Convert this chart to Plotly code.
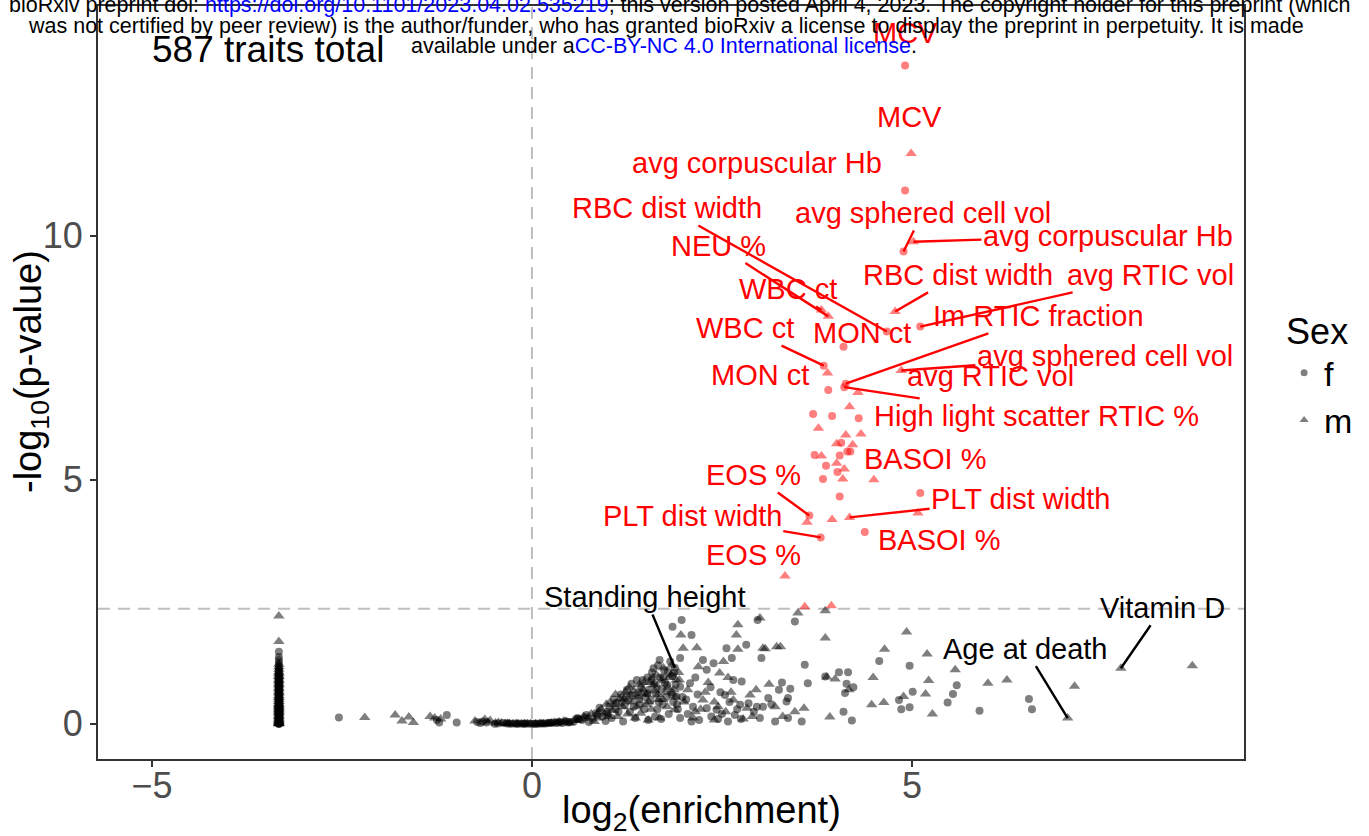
import plotly.graph_objects as go

# ---------------- data ----------------
THRESH = 2.36  # -log10 p significance threshold (dashed line)

# significant (red) traits
sig_f_x = [4.91, 4.91, 4.89, 5.11, 4.67, 4.10, 3.84, 3.90, 4.11, 4.13, 3.70, 3.95, 4.30,
           4.07, 4.19, 4.15, 3.72, 4.05, 3.87, 4.02, 3.83, 4.05, 5.11, 3.65, 3.80, 4.38]
sig_f_y = [13.49, 10.93, 9.68, 8.14, 8.04, 7.73, 7.34, 6.84, 6.90, 6.97, 6.35, 6.31, 6.26,
           5.76, 5.58, 5.58, 5.51, 5.50, 5.29, 5.16, 5.02, 4.66, 4.73, 4.27, 3.82, 3.93]
sig_m_x = [4.99, 5.02, 4.78, 3.81, 3.90, 3.89, 4.86, 4.29, 4.18, 3.77, 4.13, 4.33, 4.01,
           4.22, 3.81, 4.01, 4.11, 4.09, 4.50, 5.08, 3.62, 3.95, 4.18, 3.33, 3.59, 3.94]
sig_m_y = [11.69, 9.88, 8.45, 8.48, 8.35, 7.19, 7.24, 6.79, 6.50, 6.06, 5.92, 5.94, 5.74,
           5.72, 5.49, 5.34, 5.22, 5.02, 5.00, 4.32, 4.13, 4.19, 4.23, 3.03, 2.40, 2.42]

# traits with no enrichment estimate (vertical column), female / male
col_f_x = [-3.33, -3.33, -3.33, -3.33, -3.33, -3.33, -3.33, -3.33, -3.33, -3.33,
           -3.33, -3.33, -3.33, -3.33, -3.33, -3.33, -3.33, -3.33, -3.33, -3.33,
           -3.33, -3.33, -3.33, -3.33, -3.33, -3.33, -3.33, -3.33, -3.33, -3.33,
           -3.33, -3.33, -3.33, -3.33, -3.33, -3.33, -3.33, -3.33, -3.33, -3.33,
           -3.33, -3.33, -3.33, -3.33, -3.33, -3.33, -3.33, -3.33, -3.33, -3.33,
           -3.33, -3.33, -3.33, -3.33, -3.33, -3.33, -3.33, -3.33, -3.33, -3.33,
           -3.33, -3.33, -3.33, -3.33, -3.33, -3.33, -3.33, -3.33]
col_f_y = [0.00, 0.00, 0.01, 0.01, 0.02, 0.02, 0.03, 0.04, 0.05, 0.06,
           0.07, 0.08, 0.09, 0.10, 0.11, 0.12, 0.13, 0.15, 0.16, 0.18,
           0.19, 0.20, 0.22, 0.24, 0.25, 0.27, 0.28, 0.30, 0.31, 0.33,
           0.34, 0.36, 0.37, 0.40, 0.42, 0.44, 0.45, 0.48, 0.50, 0.52,
           0.55, 0.56, 0.60, 0.62, 0.64, 0.67, 0.68, 0.72, 0.74, 0.76,
           0.80, 0.82, 0.84, 0.88, 0.90, 0.92, 0.96, 0.98, 1.00, 1.05,
           1.08, 1.10, 1.14, 1.20, 1.25, 1.31, 1.37, 1.48]
col_m_x = [-3.33, -3.33, -3.33, -3.33, -3.33, -3.33, -3.33, -3.33, -3.33, -3.33,
           -3.33, -3.33, -3.33, -3.33, -3.33, -3.33, -3.33, -3.33, -3.33, -3.33,
           -3.33, -3.33, -3.33, -3.33, -3.33, -3.33, -3.33, -3.33, -3.33, -3.33,
           -3.33, -3.33, -3.33, -3.33, -3.33, -3.33, -3.33, -3.33, -3.33, -3.33,
           -3.33, -3.33, -3.33, -3.33, -3.33, -3.33, -3.33, -3.33, -3.33, -3.33,
           -3.33, -3.33, -3.33, -3.33, -3.33, -3.33, -3.33, -3.33, -3.33, -3.33,
           -3.33]
col_m_y = [0.00, 0.00, 0.01, 0.02, 0.03, 0.04, 0.05, 0.06, 0.07, 0.09,
           0.10, 0.12, 0.14, 0.15, 0.17, 0.18, 0.21, 0.23, 0.24, 0.26,
           0.27, 0.29, 0.30, 0.32, 0.33, 0.35, 0.36, 0.38, 0.39, 0.41,
           0.42, 0.46, 0.47, 0.50, 0.53, 0.54, 0.57, 0.58, 0.62, 0.65,
           0.66, 0.70, 0.73, 0.74, 0.78, 0.81, 0.82, 0.86, 0.89, 0.90,
           0.94, 0.97, 0.98, 1.02, 1.04, 1.07, 1.12, 1.17, 1.22, 1.69,
           2.21]

# non-significant traits, female (circles)
ns_f_x = [-2.54, -1.25, -1.22, -1.12, -0.99, -0.72, -0.68, -0.65, -0.60, -0.49, -0.45, -0.38,
          -0.33, -0.30, -0.27, -0.22, -0.20, -0.17, -0.12, -0.10, -0.08, -0.04, 0.00, 0.03,
          0.05, 0.08, 0.12, 0.15, 0.18, 0.22, 0.25, 0.28, 0.32, 0.35, 0.38, 0.40, 0.45, 0.48,
          0.50, 0.55, 0.58, 0.60, 0.62, 0.66, 0.70, 0.72, 0.75, 0.80, 0.84, 0.86, 0.89, 0.93,
          0.97, 0.99, 1.00,
          1.02, 1.05, 1.08, 1.10, 1.11, 1.14, 1.17, 1.18, 1.20, 1.22, 1.24, 1.25, 1.27, 1.29,
          1.31, 1.33, 1.34, 1.36, 1.38, 1.40, 1.41, 1.42, 1.44, 1.46, 1.48, 1.49,
          1.52, 1.52, 1.53, 1.54, 1.56, 1.57, 1.58, 1.60, 1.61, 1.62, 1.63, 1.64, 1.65, 1.66,
          1.67, 1.68, 1.69, 1.70, 1.71, 1.72, 1.73, 1.74, 1.75, 1.77, 1.78, 1.79, 1.80, 1.82,
          1.83, 1.84, 1.85, 1.85, 1.86, 1.87, 1.88, 1.89, 1.90, 1.91, 1.92, 1.95, 1.95, 1.95,
          1.97, 1.98,
          2.03, 2.05, 2.08, 2.10, 2.10, 2.12, 2.15, 2.18, 2.20, 2.25, 2.30, 2.30, 2.35, 2.36,
          2.39, 2.43, 2.45, 2.48, 2.50, 2.54, 2.56, 2.58, 2.60, 2.63, 2.65, 2.67, 2.70, 2.74,
          2.75, 2.76, 2.82, 2.85, 2.92, 2.96, 2.97, 3.00, 3.02, 3.04, 3.11, 3.15, 3.20, 3.25,
          3.29, 3.35, 3.37, 3.37, 3.40, 3.46, 3.55, 3.59, 3.63,
          3.86, 4.04, 4.10, 4.12, 4.14, 4.16, 4.21, 4.23, 4.57, 4.83, 4.86, 4.97, 4.97, 5.01,
          5.47, 5.54, 5.59, 5.89, 6.54, 6.58]
ns_f_y = [0.13, 0.08, 0.03, 0.18, 0.03, 0.04, 0.02, 0.05, 0.03, 0.00, 0.01, 0.02,
          0.01, 0.01, 0.00, 0.01, 0.00, 0.00, 0.00, 0.00, 0.01, 0.00, 0.00, 0.00,
          0.00, 0.00, 0.01, 0.01, 0.01, 0.02, 0.02, 0.03, 0.02, 0.03, 0.04, 0.02, 0.05, 0.03,
          0.04, 0.05, 0.10, 0.12, 0.10, 0.08, 0.13, 0.18, 0.04, 0.10, 0.22, 0.18, 0.33, 0.15,
          0.06, 0.25, 0.20,
          0.35, 0.12, 0.50, 0.30, 0.43, 0.25, 0.60, 0.45, 0.05, 0.38, 0.55, 0.70, 0.48, 0.25,
          0.82, 0.58, 0.35, 0.12, 0.90, 0.65, 0.50, 0.40, 0.75, 0.90, 0.30, 0.55,
          0.95, 0.62, 0.08, 0.70, 0.48, 0.90, 1.05, 1.14, 0.82, 0.15, 0.60, 0.75, 0.30, 1.20,
          0.45, 1.31, 0.95, 0.10, 0.72, 0.40, 0.95, 1.10, 0.85, 0.55, 0.80, 1.07, 0.20, 1.28,
          0.65, 0.60, 0.98, 1.99, 0.45, 1.05, 1.15, 0.80, 0.56, 0.40, 0.30, 1.35, 0.76, 0.12,
          2.13, 0.55,
          0.50, 0.20, 0.83, 1.82, 0.05, 0.35, 0.95, 0.60, 0.08, 1.31, 1.11, 0.32, 0.75, 0.15,
          1.24, 0.29, 0.10, 0.65, 0.20, 0.59, 1.55, 0.05, 0.45, 1.35, 0.90, 0.18, 0.30, 0.39,
          0.10, 0.87, 1.62, 0.42, 0.25, 0.35, 2.13, 0.12, 1.35, 0.35, 0.53, 0.40, 0.05, 0.70,
          0.85, 0.46, 0.53, 0.12, 0.72, 2.10, 0.05, 1.21, 0.83,
          0.97, 1.06, 0.25, 0.63, 0.82, 1.06, 0.07, 0.75, 1.29, 0.49, 0.30, 0.34, 1.19, 0.66,
          0.44, 0.61, 0.79, 0.27, 0.51, 0.30]

# non-significant traits, male (triangles)
ns_m_x = [-2.20, -1.80, -1.71, -1.62, -1.56, -1.34, -1.28, -1.20, -0.75, -0.62, -0.58, -0.55,
          -0.48, -0.44, -0.40, -0.35, -0.32, -0.30, -0.25, -0.20, -0.18, -0.14, -0.10, -0.06,
          -0.02, 0.05, 0.10, 0.12, 0.15, 0.20, 0.22, 0.25, 0.30, 0.33, 0.36, 0.42, 0.45, 0.50,
          0.58, 0.62, 0.68, 0.74, 0.78, 0.82, 0.86, 0.88, 0.91, 0.95, 0.98,
          1.01, 1.03, 1.06, 1.09, 1.10, 1.13, 1.16, 1.19, 1.21, 1.23, 1.26, 1.28, 1.30, 1.32,
          1.34, 1.36, 1.38, 1.39, 1.41, 1.43, 1.45, 1.46, 1.47, 1.50,
          1.51, 1.53, 1.54, 1.55, 1.57, 1.59, 1.60, 1.62, 1.64, 1.66, 1.67, 1.68, 1.70, 1.72,
          1.73, 1.76, 1.78, 1.79, 1.81, 1.83, 1.84, 1.87, 1.88, 1.89, 1.90, 1.93, 1.94, 1.96,
          1.99, 2.00,
          2.05, 2.12, 2.15, 2.17, 2.19, 2.22, 2.25, 2.28, 2.32, 2.40, 2.40, 2.45, 2.47, 2.52,
          2.55, 2.58, 2.62, 2.65, 2.69, 2.71, 2.71, 2.78, 2.83, 2.87, 2.90, 2.95, 3.00, 3.04,
          3.07, 3.12, 3.20, 3.22, 3.27, 3.30, 3.46, 3.50, 3.58,
          3.86, 3.86, 3.88, 3.92, 3.99, 4.17, 4.47, 4.49, 4.63, 4.64, 4.89, 4.93, 5.18, 5.20,
          5.22, 5.27, 5.57, 6.00, 6.25, 7.05, 7.14, 7.75, 8.69]
ns_m_y = [0.13, 0.18, 0.06, 0.14, 0.03, 0.15, 0.12, 0.10, 0.06, 0.09, 0.04, 0.07,
          0.02, 0.03, 0.02, 0.01, 0.01, 0.01, 0.00, 0.00, 0.00, 0.00, 0.00, 0.00,
          0.00, 0.00, 0.00, 0.00, 0.00, 0.01, 0.01, 0.02, 0.03, 0.03, 0.04, 0.06, 0.05, 0.02,
          0.07, 0.08, 0.15, 0.12, 0.20, 0.05, 0.12, 0.25, 0.30, 0.20, 0.40,
          0.15, 0.45, 0.28, 0.40, 0.60, 0.15, 0.52, 0.35, 0.50, 0.65, 0.20, 0.75, 0.60, 0.45,
          0.68, 0.12, 0.35, 0.55, 0.80, 0.22, 0.62, 0.70, 0.85, 0.40,
          0.60, 0.08, 0.45, 0.85, 0.30, 0.95, 0.80, 0.68, 1.00, 0.60, 0.50, 0.12, 0.88, 0.50,
          1.15, 0.65, 0.35, 0.75, 0.95, 1.00, 1.20, 0.70, 0.29, 0.55, 0.90, 1.05, 0.90, 1.82,
          1.55, 0.45,
          0.70, 0.12, 0.25, 1.56, 1.17, 0.30, 0.49, 0.65, 0.85, 0.45, 0.08, 0.35, 1.04, 1.28,
          0.25, 0.95, 0.65, 0.49, 1.82, 2.03, 1.53, 0.10, 0.32, 0.59, 0.15, 0.70, 2.17, 1.55,
          1.54, 0.81, 0.35, 1.58, 1.58, 0.15, 0.25, 2.27, 0.32,
          2.32, 1.76, 0.96, 0.14, 0.92, 0.70, 0.39, 0.95, 0.44, 1.53, 0.56, 1.88, 0.61, 1.43,
          0.89, 0.20, 1.11, 0.83, 0.90, 0.12, 0.77, 1.14, 1.19]

# labels: (text, series, index, text x, text y, draw segment)
red_labels = [
    ("MCV", "f", 0, 4.91, 14.16, False),
    ("MCV", "m", 0, 4.97, 12.44, False),
    ("avg corpuscular Hb", "f", 1, 2.96, 11.50, False),
    ("RBC dist width", "f", 4, 1.78, 10.57, True),
    ("avg sphered cell vol", "f", 2, 5.14, 10.47, True),
    ("avg corpuscular Hb", "m", 1, 7.58, 10.00, True),
    ("NEU %", "m", 4, 2.45, 9.80, True),
    ("WBC ct", "m", 3, 3.37, 8.91, True),
    ("RBC dist width", "m", 2, 5.61, 9.20, True),
    ("avg RTIC vol", "f", 3, 8.14, 9.20, True),
    ("MON ct", "f", 5, 4.34, 8.01, False),
    ("Im RTIC fraction", "f", 9, 6.66, 8.36, True),
    ("WBC ct", "f", 6, 2.80, 8.11, True),
    ("avg sphered cell vol", "m", 6, 7.54, 7.54, True),
    ("MON ct", "m", 5, 3.00, 7.15, False),
    ("avg RTIC vol", "m", 6, 6.03, 7.13, False),
    ("High light scatter RTIC %", "f", 8, 6.64, 6.31, True),
    ("BASOI %", "m", 18, 5.18, 5.43, False),
    ("EOS %", "f", 23, 2.92, 5.10, True),
    ("PLT dist width", "m", 22, 6.43, 4.61, True),
    ("PLT dist width", "f", 24, 2.11, 4.26, True),
    ("BASOI %", "f", 25, 5.36, 3.77, False),
    ("EOS %", "m", 23, 2.92, 3.46, False),
]
# black labels: (text, series, x-value of the labelled trait, text x, text y)
black_labels = [
    ("Standing height", "f", 1.88, 1.49, 2.60),
    ("Age at death", "m", 7.05, 6.49, 1.54),
    ("Vitamin D", "m", 7.75, 8.30, 2.38),
]

x_ticks = [-5, 0, 5]
x_tick_text = ["\u22125", "0", "5"]
y_ticks = [0, 5, 10]
y_tick_text = ["0", "5", "10"]

# ---------------- figure ----------------
FONT = "Liberation Sans, Arial, Helvetica, sans-serif"
BLACK = "rgba(0,0,0,0.5)"
RED = "rgba(255,0,0,0.5)"
LBL = 29

fig = go.Figure()
for xs, ys in [(col_f_x, col_f_y), (ns_f_x, ns_f_y)]:
    fig.add_trace(go.Scatter(x=xs, y=ys, mode="markers", showlegend=False, hoverinfo="skip",
                             marker=dict(symbol="circle", size=8, color=BLACK, line=dict(width=0))))
for xs, ys in [(col_m_x, col_m_y), (ns_m_x, ns_m_y)]:
    fig.add_trace(go.Scatter(x=xs, y=ys, mode="markers", showlegend=False, hoverinfo="skip",
                             marker=dict(symbol="triangle-up", size=10, color=BLACK, line=dict(width=0))))
fig.add_trace(go.Scatter(x=sig_f_x, y=sig_f_y, mode="markers", showlegend=False,
                         marker=dict(symbol="circle", size=8, color=RED, line=dict(width=0))))
fig.add_trace(go.Scatter(x=sig_m_x, y=sig_m_y, mode="markers", showlegend=False,
                         marker=dict(symbol="triangle-up", size=10, color=RED, line=dict(width=0))))
# legend entries
fig.add_trace(go.Scatter(x=[None], y=[None], mode="markers", name="f",
                         marker=dict(symbol="circle", size=7, color=BLACK, line=dict(width=0))))
fig.add_trace(go.Scatter(x=[None], y=[None], mode="markers", name="m",
                         marker=dict(symbol="triangle-up", size=8, color=BLACK, line=dict(width=0))))

series = {"f": (sig_f_x, sig_f_y), "m": (sig_m_x, sig_m_y)}
ns_series = {"f": (ns_f_x, ns_f_y), "m": (ns_m_x, ns_m_y)}

annotations = []
for text, s, i, tx, ty, seg in red_labels:
    px, py = series[s][0][i], series[s][1][i]
    if seg:
        annotations.append(dict(x=px, y=py, ax=tx, ay=ty, axref="x", ayref="y", xref="x", yref="y",
                                text=text, showarrow=True, arrowhead=0, arrowwidth=2.4,
                                arrowcolor="#ff0000", font=dict(size=LBL, color="#ff0000", family=FONT)))
    else:
        annotations.append(dict(x=tx, y=ty, xref="x", yref="y", text=text, showarrow=False,
                                font=dict(size=LBL, color="#ff0000", family=FONT)))
for text, s, key, tx, ty in black_labels:
    i = ns_series[s][0].index(key)
    px, py = ns_series[s][0][i], ns_series[s][1][i]
    annotations.append(dict(x=px, y=py, ax=tx, ay=ty, axref="x", ayref="y", xref="x", yref="y",
                            text=text, showarrow=True, arrowhead=0, arrowwidth=2.4,
                            arrowcolor="#000000", font=dict(size=LBL, color="#000000", family=FONT)))

annotations.append(dict(x=-3.47, y=13.81, xref="x", yref="y", text="587 traits total", showarrow=False,
                        font=dict(size=37, color="#000000", family=FONT)))

# page-pixel helpers for paper placement
W, H = 1146.0, 753.0
def px2paper(p):
    return (p - 98) / W
def py2paper(p):
    return (759 - p) / H

# axis titles
annotations.append(dict(x=px2paper(701), y=py2paper(813), xref="paper", yref="paper", showarrow=False,
                        xanchor="center", yanchor="middle", text="log<sub>2</sub>(enrichment)",
                        font=dict(size=38, color="#000000", family=FONT)))
annotations.append(dict(x=px2paper(31), y=py2paper(372), xref="paper", yref="paper", showarrow=False,
                        xanchor="center", yanchor="middle", textangle=-90, text="-log<sub>10</sub>(p-value)",
                        font=dict(size=38, color="#000000", family=FONT)))

# bioRxiv header overlay
hdr_font = dict(size=21.5, color="#000000", family=FONT)
annotations.append(dict(x=px2paper(679), y=py2paper(5), xref="paper", yref="paper", showarrow=False,
                        yanchor="middle", xanchor="center",
                        text="bioRxiv preprint doi: <span style='color:#0000ff'>https://doi.org/10.1101/2023.04.02.535219</span>; this version posted April 4, 2023. The copyright holder for this preprint (which",
                        font=hdr_font))
annotations.append(dict(x=px2paper(666), y=py2paper(26), xref="paper", yref="paper", showarrow=False,
                        yanchor="middle", xanchor="center",
                        text="was not certified by peer review) is the author/funder, who has granted bioRxiv a license to display the preprint in perpetuity. It is made",
                        font=hdr_font))
annotations.append(dict(x=px2paper(664), y=py2paper(46), xref="paper", yref="paper", showarrow=False,
                        yanchor="middle", xanchor="center",
                        text="available under a<span style='color:#0000ff'>CC-BY-NC 4.0 International license</span>.",
                        font=hdr_font))

shapes = [
    dict(type="line", xref="paper", yref="y", x0=0, x1=1, y0=THRESH, y1=THRESH, layer="below",
         line=dict(color="#bebebe", width=2, dash="12px,8px")),
    dict(type="line", xref="x", yref="paper", x0=0, x1=0, y0=0, y1=1, layer="below",
         line=dict(color="#bebebe", width=2, dash="12px,8px")),
]

fig.update_layout(
    width=1369, height=836,
    margin=dict(l=98, r=125, t=6, b=77, autoexpand=False),
    paper_bgcolor="white", plot_bgcolor="white",
    font=dict(family=FONT, color="#000000"),
    annotations=annotations, shapes=shapes,
    legend=dict(x=1.035, y=0.613, xanchor="left", yanchor="top",
                title=dict(text="Sex", font=dict(size=36, family=FONT)),
                font=dict(size=34, family=FONT), tracegroupgap=0, itemsizing="trace"),
    xaxis=dict(range=[-5.71, 9.37], tickvals=x_ticks, ticktext=x_tick_text, showgrid=False,
               zeroline=False, showline=True, mirror=True, linecolor="#333333", linewidth=2,
               ticks="outside", ticklen=6, tickwidth=2, tickcolor="#333333", automargin=False,
               ticklabelstandoff=-12,
               tickfont=dict(size=36, color="#4d4d4d", family=FONT)),
    yaxis=dict(range=[-0.72, 14.71], tickvals=y_ticks, ticktext=y_tick_text, showgrid=False,
               zeroline=False, showline=True, mirror=True, linecolor="#333333", linewidth=2,
               ticks="outside", ticklen=6, tickwidth=2, tickcolor="#333333", automargin=False,
               tickfont=dict(size=36, color="#4d4d4d", family=FONT)),
)

fig.write_html("out.html")
